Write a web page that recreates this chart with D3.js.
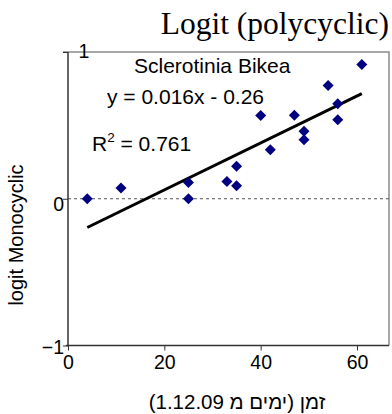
<!DOCTYPE html>
<html>
<head>
<meta charset="utf-8">
<script src="https://cdn.jsdelivr.net/npm/d3@7"></script>
<style>
  html, body { margin: 0; padding: 0; background: #fff; }
  svg { display: block; }
  .sans { font-family: "Liberation Sans", Arial, sans-serif; }
</style>
</head>
<body>
<svg id="chart" width="392" height="414"></svg>
<script>
// Observations: days since 1.12.09 and logit of monocyclic infection
const days  = [4, 11, 25, 25, 33, 35, 35, 40, 42, 47, 49, 49, 54, 56, 56, 61];
const logit = [0.0, 0.074, 0.0, 0.11, 0.118, 0.088, 0.221, 0.567, 0.334, 0.569, 0.46, 0.402, 0.772, 0.648, 0.538, 0.914];

// Linear fit reported on the chart
const slope = 0.016;
const intercept = -0.26;
const rSquared = "0.761";

const xTicks = [0, 20, 40, 60];
const yTicks = [-1, 0, 1];

const svg = d3.select("#chart");
const plotL = 68, plotR = 389, plotT = 52, plotB = 345.5;

const x = d3.scaleLinear().domain([0, 60]).range([plotL, 357]);
const y = d3.scaleLinear().domain([-1, 1]).range([plotB, plotT]);

// title
svg.append("text")
  .attr("x", 389).attr("y", 34)
  .attr("text-anchor", "end")
  .style("font-family", "'Liberation Serif', 'Times New Roman', serif")
  .style("font-size", "31.5px")
  .text("Logit (polycyclic)");

// plot frame: grey top/right border
svg.append("path")
  .attr("d", `M${plotL - 5},${plotT}H${plotR}V${plotB}`)
  .attr("fill", "none").attr("stroke", "#8c8c8c").attr("stroke-width", 1.5);

// zero reference line
svg.append("line")
  .attr("x1", plotL).attr("x2", plotR)
  .attr("y1", y(0)).attr("y2", y(0))
  .attr("stroke", "#555").attr("stroke-width", 1)
  .attr("stroke-dasharray", "3,3");

// axes
const xAxis = d3.axisBottom(x).tickValues(xTicks).tickSize(5).tickFormat(d3.format("d"));
const gx = svg.append("g").attr("transform", `translate(0,${plotB})`).call(xAxis);
gx.select(".domain").attr("d", `M${plotL - 2},0H${plotR}`).attr("stroke", "#333").attr("stroke-width", 1.5);
gx.selectAll(".tick line").attr("stroke", "#333");
gx.selectAll(".tick text")
  .attr("class", "sans").attr("y", 10).attr("dy", "0.71em")
  .style("font-size", "19.5px").attr("fill", "#000");

const gy = svg.append("g").attr("transform", `translate(${plotL},0)`)
  .call(d3.axisLeft(y).tickValues(yTicks).tickSize(5).tickFormat(d3.format("d")));
gy.select(".domain").attr("d", `M0,${plotT}V${plotB}`).attr("stroke", "#333").attr("stroke-width", 1.5);
gy.selectAll(".tick line").attr("stroke", "#333");
gy.selectAll(".tick text")
  .attr("class", "sans").style("font-size", "19.5px").attr("fill", "#000")
  .attr("x", d => d === 1 ? 16 : -4)
  .attr("text-anchor", d => d === 1 ? "middle" : "end")
  .attr("dy", d => d === 0 ? "0.62em" : d === 1 ? "0.3em" : "0.42em");

// fitted line
const fitX = [d3.min(days), d3.max(days)];
svg.append("path")
  .datum(fitX)
  .attr("d", d3.line().x(d => x(d)).y(d => y(slope * d + intercept)))
  .attr("fill", "none").attr("stroke", "#000").attr("stroke-width", 3);

// diamond markers
const pts = days.map((d, i) => ({ day: d, v: logit[i] }));
const r = 5.5;
svg.append("g").selectAll("path")
  .data(pts).join("path")
  .attr("d", p => {
    const cx = x(p.day), cy = y(p.v);
    return `M${cx},${cy - r}L${cx + r},${cy}L${cx},${cy + r}L${cx - r},${cy}Z`;
  })
  .attr("fill", "#000080");

// annotations
const ann = svg.append("g").attr("class", "sans").style("font-size", "21px").attr("fill", "#000");
ann.append("text").attr("x", 134).attr("y", 73).text("Sclerotinia Bikea");
ann.append("text").attr("x", 107).attr("y", 104).text(`y = ${slope}x - ${Math.abs(intercept)}`);
const r2 = ann.append("text").attr("x", 92).attr("y", 151);
r2.append("tspan").text("R");
r2.append("tspan").attr("dy", -9).style("font-size", "13.5px").text("2");
r2.append("tspan").attr("dy", 9).text(` = ${rSquared}`);

// axis titles
svg.append("text")
  .attr("class", "sans")
  .attr("transform", "translate(23,235) rotate(-90)")
  .attr("text-anchor", "middle")
  .style("font-size", "20px")
  .text("logit Monocyclic");

svg.append("text")
  .attr("class", "sans")
  .attr("x", 237).attr("y", 409)
  .attr("text-anchor", "middle")
  .attr("direction", "rtl")
  .style("direction", "rtl")
  .style("font-size", "20.5px")
  .text("זמן (ימים מ 1.12.09)");
</script>
</body>
</html>
